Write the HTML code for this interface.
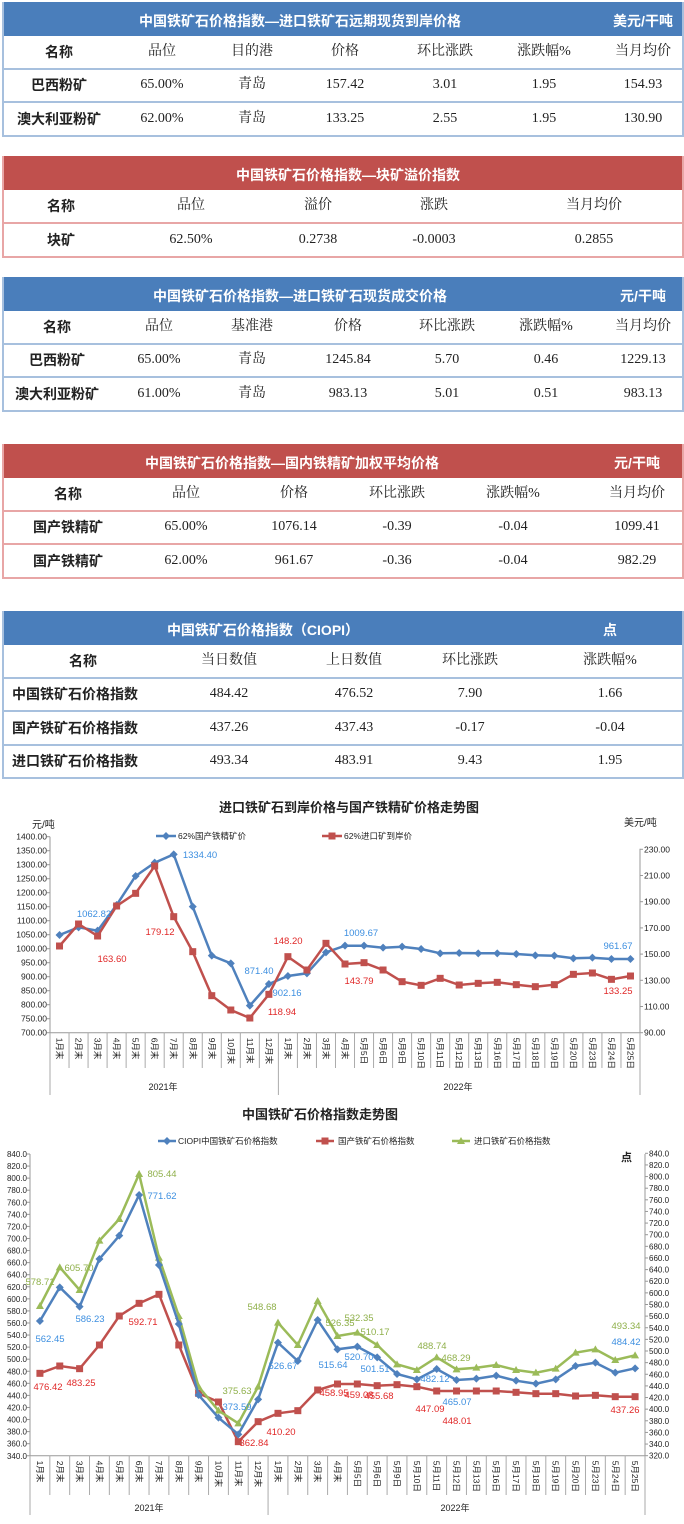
<!DOCTYPE html>
<html><head><meta charset="utf-8">
<style>
body{margin:0;width:684px;height:1524px;background:#fff;position:relative;overflow:hidden;font-family:"Liberation Sans","Noto Sans CJK SC",sans-serif;}
.t{position:absolute;left:2px;width:678px;}
.h{position:absolute;left:0;right:0;color:#fff;font-weight:bold;font-size:14px;}
.r{position:absolute;left:0;right:0;border-bottom:2px solid #a7c0de;}
.c{position:absolute;top:50%;transform:translate(-50%,-50%);line-height:16px;white-space:nowrap;font-size:14px;color:#222;font-family:"Liberation Serif","Noto Serif CJK SC",serif;}
.b{font-weight:bold;font-family:"Liberation Sans","Noto Sans CJK SC",sans-serif;}
svg text{font-family:"Liberation Sans","Noto Sans CJK SC",sans-serif;}
</style></head><body>
<div id="tables"></div>
<svg id="ch" width="684" height="1524" style="position:absolute;left:0;top:0"></svg>
<script>
var T=document.getElementById('tables');
function table(top,color,border,title,titleX,unit,unitX,cols,rows,rowH,leftName){
  var h='';
  h+='<div class="t" style="top:'+top+'px;height:'+(34+rowH*rows.length)+'px;border-left:2px solid '+border+';border-right:2px solid '+border+'">';
  h+='<div class="h" style="top:0;height:34px;background:'+color+'"><span style="position:absolute;left:'+titleX+'px;top:9px;transform:translateX(-50%);white-space:nowrap">'+title+'</span><span style="position:absolute;left:'+unitX+'px;top:9px;transform:translateX(-50%);white-space:nowrap">'+unit+'</span></div>';
  for(var i=0;i<rows.length;i++){
    var y=34+rowH*i;
    h+='<div class="r" style="top:'+y+'px;height:'+(rowH-2)+'px;border-color:'+border+'">';
    for(var j=0;j<cols.length;j++){
      var st='left:'+cols[j]+'px';
      if(j==0&&leftName&&i>0) st='left:8px;transform:translateY(-50%)';
      h+='<span class="c'+(j==0?' b':'')+'" style="'+st+'">'+rows[i][j]+'</span>';
    }
    h+='</div>';
  }
  h+='</div>';
  T.innerHTML+=h;
}
var BL='#4a7ebb',RD='#c0504d';
table(2,BL,'#a7c0de','中国铁矿石价格指数—进口铁矿石远期现货到岸价格',296,'美元/干吨',639,[55,158,248,341,441,540,639],
 [['名称','品位','目的港','价格','环比涨跌','涨跌幅%','当月均价'],['巴西粉矿','65.00%','青岛','157.42','3.01','1.95','154.93'],['澳大利亚粉矿','62.00%','青岛','133.25','2.55','1.95','130.90']],33.5);
table(156,RD,'#e8a6a6','中国铁矿石价格指数—块矿溢价指数',344,'',0,[57,187,314,430,590],
 [['名称','品位','溢价','涨跌','当月均价'],['块矿','62.50%','0.2738','-0.0003','0.2855']],34);
table(277,BL,'#a7c0de','中国铁矿石价格指数—进口铁矿石现货成交价格',296,'元/干吨',639,[53,155,248,344,443,542,639],
 [['名称','品位','基准港','价格','环比涨跌','涨跌幅%','当月均价'],['巴西粉矿','65.00%','青岛','1245.84','5.70','0.46','1229.13'],['澳大利亚粉矿','61.00%','青岛','983.13','5.01','0.51','983.13']],33.5);
table(444,RD,'#e8a6a6','中国铁矿石价格指数—国内铁精矿加权平均价格',288,'元/干吨',633,[64,182,290,393,509,633],
 [['名称','品位','价格','环比涨跌','涨跌幅%','当月均价'],['国产铁精矿','65.00%','1076.14','-0.39','-0.04','1099.41'],['国产铁精矿','62.00%','961.67','-0.36','-0.04','982.29']],33.5);
table(611,BL,'#a7c0de','中国铁矿石价格指数（CIOPI）',259,'点',606,[79,225,350,466,606],
 [['名称','当日数值','上日数值','环比涨跌','涨跌幅%'],['中国铁矿石价格指数','484.42','476.52','7.90','1.66'],['国产铁矿石价格指数','437.26','437.43','-0.17','-0.04'],['进口铁矿石价格指数','493.34','483.91','9.43','1.95']],33.5,true);

var S='';
function tx(x,y,s,o){o=o||{};S+='<text x="'+x+'" y="'+y+'" font-size="'+(o.fs||9)+'" fill="'+(o.c||'#222')+'"'+(o.a?' text-anchor="'+o.a+'"':'')+(o.w?' font-weight="bold"':'')+(o.t?' transform="'+o.t+'"':'')+'>'+s+'</text>';}
function ln(x1,y1,x2,y2,c,w){S+='<line x1="'+x1+'" y1="'+y1+'" x2="'+x2+'" y2="'+y2+'" stroke="'+(c||'#999')+'" stroke-width="'+(w||1)+'"/>';}
function mk(x,y,t,c){
 if(t==0)S+='<polygon points="'+x+','+(y-4)+' '+(x+4)+','+y+' '+x+','+(y+4)+' '+(x-4)+','+y+'" fill="'+c+'"/>';
 else if(t==1)S+='<rect x="'+(x-3.5)+'" y="'+(y-3.5)+'" width="7" height="7" fill="'+c+'"/>';
 else S+='<polygon points="'+x+','+(y-4)+' '+(x+4)+','+(y+3)+' '+(x-4)+','+(y+3)+'" fill="'+c+'"/>';
}
function series(xs,ys,c,t){var p=xs.map(function(x,i){return x.toFixed(1)+','+ys[i].toFixed(1)}).join(' ');S+='<polyline points="'+p+'" fill="none" stroke="'+c+'" stroke-width="2.5"/>';xs.forEach(function(x,i){mk(x,ys[i],t,c)});}
var cats=[];for(var i=1;i<=12;i++)cats.push(i+'月末');for(i=1;i<=4;i++)cats.push(i+'月末');
[5,6,9,10,11,12,13,16,17,18,19,20,23,24,25].forEach(function(d){cats.push('5月'+d+'日')});
var cB='#4f81bd',cR='#c0504d',cG='#9bbb59',lB='#3d8fe0',lR='#e02828',lG='#8fb04a';

(function(){
 var L=50,R=640,top=836.7,bot=1032.7,w=(R-L)/31;
 tx(349,812,'进口铁矿石到岸价格与国产铁精矿价格走势图',{fs:13,w:1,a:'middle'});
 tx(32,828,'元/吨',{fs:10});tx(624,826,'美元/吨',{fs:10});
 ln(L,top,L,bot);ln(R,top+12,R,bot);ln(L,bot,R,bot);
 for(var k=0;k<=14;k++){var y=top+k*14;tx(L-3,y+3,(1400-50*k).toFixed(2),{fs:8.5,a:'end'});ln(L-3,y,L,y);}
 for(k=0;k<=7;k++){var y=bot-k*26.2;tx(R+4,y+3,(90+20*k).toFixed(2),{fs:8.5});ln(R,y,R+3,y);}
 for(i=0;i<=31;i++){var x=L+w*i;ln(x,bot,x,(i==0||i==12||i==31)?1095:1068,'#aaa');}
 for(i=0;i<31;i++){var x=L+w*(i+.5);tx(x-3,bot+5,cats[i],{fs:8.5,t:'rotate(90 '+(x-3)+' '+(bot+5)+')'});}
 tx(163,1090,'2021年',{fs:9,a:'middle'});tx(458,1090,'2022年',{fs:9,a:'middle'});
 var xs=[];for(i=0;i<31;i++)xs.push(L+w*(i+.5));
 var bz=[435,412,422,345,258,218,193,350,497,520,647,582,558,550,487,467,467,473,470,477,490,489,490,490,492,496,497,505,503,507,507];
 var rz=[468,402,438,348,310,228,380,485,617,660,684,613,500,540,460,522,518,540,575,586,565,585,580,577,584,590,584,553,549,568,558];
 series(xs,bz.map(function(z){return 790+z/3}),cB,0);
 series(xs,rz.map(function(z){return 790+z/3}),cR,1);
 ln(156,836,176,836,cB,2.5);mk(166,836,0,cB);tx(178,839,'62%国产铁精矿价',{fs:8.5});
 ln(322,836,342,836,cR,2.5);mk(332,836,1,cR);tx(344,839,'62%进口矿到岸价',{fs:8.5});
 [[94,917,'1062.82'],[200,858,'1334.40'],[259,974,'871.40'],[287,996,'902.16'],[361,936,'1009.67'],[618,949,'961.67']].forEach(function(a){tx(a[0],a[1],a[2],{fs:9.5,c:lB,a:'middle'})});
 [[160,935,'179.12'],[112,962,'163.60'],[288,944,'148.20'],[282,1015,'118.94'],[359,984,'143.79'],[618,994,'133.25']].forEach(function(a){tx(a[0],a[1],a[2],{fs:9.5,c:lR,a:'middle'})});
})();

(function(){
 var L=30,R=645,top=1154,bot=1455.7,w=(R-L)/31;
 tx(320,1119,'中国铁矿石价格指数走势图',{fs:13,w:1,a:'middle'});
 ln(L,top,L,bot);ln(R,top,R,bot);ln(L,bot,R,bot);
 for(var k=0;k<=25;k++){var y=top+k*12.07;tx(L-3,y+3,(840-20*k).toFixed(1),{fs:8,a:'end'});ln(L-3,y,L,y);}
 for(k=0;k<=26;k++){var y=1153.3+k*11.63;tx(R+4,y+3,(840-20*k).toFixed(1),{fs:8});ln(R,y,R+3,y);}
 for(i=0;i<=31;i++){var x=L+w*i;ln(x,bot,x,(i==0||i==12||i==31)?1515:1495,'#aaa');}
 for(i=0;i<31;i++){var x=L+w*(i+.5);tx(x-3,bot+5,cats[i],{fs:8.5,t:'rotate(90 '+(x-3)+' '+(bot+5)+')'});}
 tx(149,1511,'2021年',{fs:9,a:'middle'});tx(455,1511,'2022年',{fs:9,a:'middle'});
 tx(621,1161,'点',{fs:11,w:1});
 var xs=[];for(i=0;i<31;i++)xs.push(L+w*(i+.5));
 var bz=[663,562,620,477,407,285,495,672,885,953,1003,898,728,783,660,748,740,772,822,838,807,840,836,827,842,851,838,798,788,818,805];
 var rz=[820,798,806,735,648,610,583,735,880,906,1025,965,940,932,870,852,852,857,854,860,873,873,873,873,877,881,881,888,886,890,890];
 var gz=[618,502,570,422,357,222,473,648,860,932,970,860,668,735,603,708,698,735,793,810,772,808,803,795,810,818,806,758,748,780,766];
 var f=function(z){return 1100+z/3};
 series(xs,rz.map(f),cR,1);
 series(xs,gz.map(f),cG,2);
 series(xs,bz.map(f),cB,0);
 ln(158,1141,176,1141,cB,2.5);mk(167,1141,0,cB);tx(178,1144,'CIOPI中国铁矿石价格指数',{fs:8.5});
 ln(316,1141,334,1141,cR,2.5);mk(325,1141,1,cR);tx(338,1144,'国产铁矿石价格指数',{fs:8.5});
 ln(452,1141,470,1141,cG,2.5);mk(461,1141,2,cG);tx(474,1144,'进口铁矿石价格指数',{fs:8.5});
 [[40,1285,'578.71'],[79,1271,'605.70'],[162,1177,'805.44'],[262,1310,'548.68'],[237,1394,'375.63'],[340,1326,'526.35'],[359,1321,'532.35'],[375,1335,'510.17'],[432,1349,'488.74'],[456,1361,'468.29'],[626,1329,'493.34']].forEach(function(a){tx(a[0],a[1],a[2],{fs:9.5,c:lG,a:'middle'})});
 [[50,1342,'562.45'],[90,1322,'586.23'],[162,1199,'771.62'],[237,1410,'373.59'],[283,1369,'526.67'],[333,1368,'515.64'],[359,1360,'520.70'],[375,1372,'501.51'],[435,1382,'482.12'],[457,1405,'465.07'],[626,1345,'484.42']].forEach(function(a){tx(a[0],a[1],a[2],{fs:9.5,c:lB,a:'middle'})});
 [[48,1390,'476.42'],[81,1386,'483.25'],[143,1325,'592.71'],[254,1446,'362.84'],[281,1435,'410.20'],[334,1396,'458.95'],[359,1398,'459.08'],[379,1399,'455.68'],[430,1412,'447.09'],[457,1424,'448.01'],[625,1413,'437.26']].forEach(function(a){tx(a[0],a[1],a[2],{fs:9.5,c:lR,a:'middle'})});
})();
document.getElementById('ch').innerHTML=S;
</script>
</body></html>
